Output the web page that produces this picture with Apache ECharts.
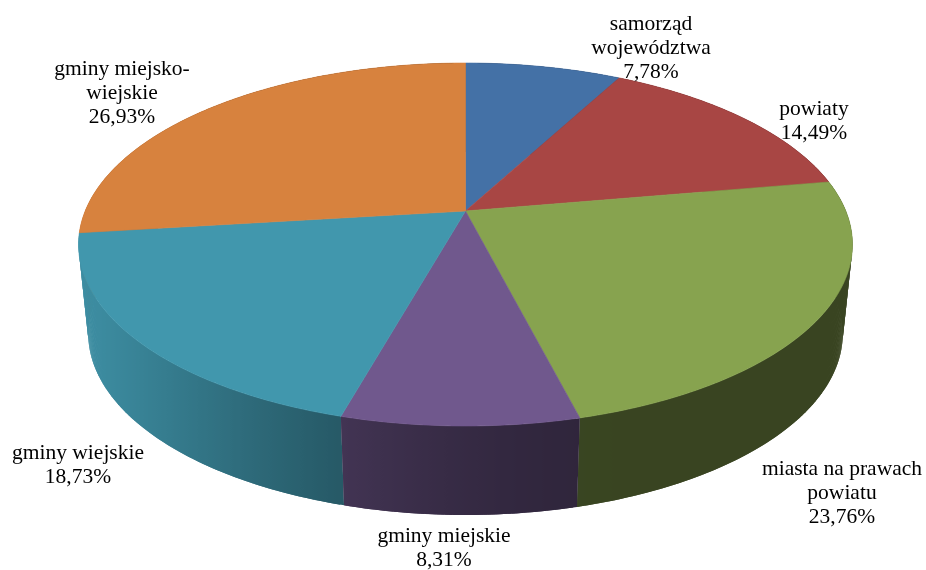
<!DOCTYPE html>
<html>
<head>
<meta charset="utf-8">
<script src="https://cdn.jsdelivr.net/npm/echarts@6/dist/echarts.min.js"></script>
<style>
  html, body { margin: 0; padding: 0; background: #ffffff; }
  #chart { width: 926px; height: 570px; }
</style>
</head>
<body>
<div id="chart"></div>
<script>
// Slice names (line breaks as they are set in the labels) and their shares in percent
const categories = [
  'samorząd\nwojewództwa',
  'powiaty',
  'miasta na prawach\npowiatu',
  'gminy miejskie',
  'gminy wiejskie',
  'gminy miejsko-\nwiejskie'
];
const shares = [7.78, 14.49, 23.76, 8.31, 18.73, 26.93];

// Slice colours (top faces)
const palette = ['#4471A6', '#A84644', '#87A34F', '#70588D', '#4197AD', '#D7823E'];

// Label block anchors: [centre x, top y]
const labelAnchors = [[651, 12], [814, 97], [842, 457], [444, 524], [78, 441], [122, 57]];

// Perspective of the tilted disc
const TILT_K = -0.1846;     // foreshortening along the depth direction
const SCALE_X = 380.3;
const SCALE_Y = 175.3;
const DEPTH = 89;           // thickness of the disc in pixels
const BASE_SHRINK = 0.975;  // bottom rim is slightly narrower (vertical convergence)
const LIGHT_ANGLE = 20 * Math.PI / 180;

const total = shares.reduce((a, b) => a + b, 0);
let running = 0;
const sliceData = shares.map((v, i) => {
  const start = running;
  running += v;
  return { name: categories[i], value: [start, running, i] };
});

function hexToRgb(hex) {
  const n = parseInt(hex.slice(1), 16);
  return [(n >> 16) & 255, (n >> 8) & 255, n & 255];
}
function shade(hex, f) {
  const c = hexToRgb(hex).map(x => Math.max(0, Math.min(255, Math.round(x * f))));
  return 'rgb(' + c.join(',') + ')';
}

// Unit-disc coordinates (u to the right, v toward the viewer) for an angle value,
// taken from the polar angle axis.
function discPoint(api, angleValue) {
  const c = api.coord([0, 0]);
  const top = api.coord([1, 0]);
  const R = c[1] - top[1];
  const p = api.coord([1, angleValue]);
  return { u: (p[0] - c[0]) / R, v: (p[1] - c[1]) / R, c: c };
}
function project(c, u, v) {
  const w = 1 + TILT_K * v;
  return [c[0] + SCALE_X * u / w, c[1] + SCALE_Y * v / w];
}
function samples(start, end) {
  const steps = Math.max(2, Math.ceil((end - start) / total * 720));
  const out = [];
  for (let s = 0; s <= steps; s++) out.push(start + (end - start) * s / steps);
  return out;
}
// Side-wall brightness from the outward normal of the rim
function wallFactor(u, v) {
  const lit = Math.max(0, -u * Math.cos(LIGHT_ANGLE) + v * Math.sin(LIGHT_ANGLE));
  return 0.42 + 0.51 * lit * lit;
}

function renderWall(params, api) {
  const start = api.value(0), end = api.value(1), idx = api.value(2);
  const base = palette[idx];
  const pts = samples(start, end).map(a => discPoint(api, a));
  const c = pts[0].c;
  const topRim = pts.map(p => project(c, p.u, p.v));
  const bottomRim = topRim.map(t => [c[0] + (t[0] - c[0]) * BASE_SHRINK, t[1] + DEPTH]);

  // horizontal gradient following the lighting along the rim
  const xs = topRim.map(t => t[0]);
  const minX = Math.min.apply(null, xs), maxX = Math.max.apply(null, xs);
  const span = Math.max(1, maxX - minX);
  const stops = pts.map((p, k) => ({ offset: (topRim[k][0] - minX) / span, f: wallFactor(p.u, p.v) }))
    .sort((a, b) => a.offset - b.offset)
    .map(s => ({ offset: Math.max(0, Math.min(1, s.offset)), color: shade(base, s.f) }));
  const grad = new echarts.graphic.LinearGradient(minX, 0, maxX, 0, stops, true);

  let vMid = 0;
  pts.forEach(p => { vMid += p.v; });
  vMid /= pts.length;
  const z2 = Math.round(200 + vMid * 100);

  // overlapping vertical bands swept along the rim
  const n = topRim.length - 1;
  const children = [];
  for (let k = 0; k < n; k++) {
    const j = Math.min(k + 2, n);
    children.push({
      type: 'polygon',
      z2: z2,
      silent: true,
      shape: { points: [topRim[k], topRim[j], bottomRim[j], bottomRim[k]] },
      style: { fill: grad }
    });
  }
  return { type: 'group', children: children };
}

function renderTop(params, api) {
  const start = api.value(0), end = api.value(1), idx = api.value(2);
  const pts = samples(start, end).map(a => discPoint(api, a));
  const c = pts[0].c;
  const poly = [[c[0], c[1]]].concat(pts.map(p => project(c, p.u, p.v)));
  const share = shares[idx];
  const anchor = labelAnchors[idx];
  return {
    type: 'group',
    children: [
      {
        type: 'polygon',
        shape: { points: poly },
        style: { fill: palette[idx], stroke: palette[idx], lineWidth: 0.6 },
        silent: true
      },
      {
        type: 'text',
        x: anchor[0],
        y: anchor[1],
        z2: 500,
        silent: true,
        style: {
          text: categories[idx] + '\n' + share.toFixed(2).replace('.', ',') + '%',
          fill: '#000000',
          fontSize: 21.5,
          fontFamily: '"Liberation Serif", "Times New Roman", serif',
          align: 'center',
          verticalAlign: 'top',
          lineHeight: 24
        }
      }
    ]
  };
}

const chart = echarts.init(document.getElementById('chart'), null, { renderer: 'canvas' });
chart.setOption({
  animation: false,
  backgroundColor: '#ffffff',
  polar: { center: [465.5, 211], radius: 100 },
  angleAxis: {
    type: 'value', min: 0, max: total, startAngle: 90, clockwise: true,
    show: false, axisLine: { show: false }, axisTick: { show: false },
    axisLabel: { show: false }, splitLine: { show: false }
  },
  radiusAxis: {
    type: 'value', min: 0, max: 1,
    show: false, axisLine: { show: false }, axisTick: { show: false },
    axisLabel: { show: false }, splitLine: { show: false }
  },
  series: [
    {
      name: 'wall', type: 'custom', coordinateSystem: 'polar', z: 2,
      renderItem: renderWall, data: sliceData, silent: true
    },
    {
      name: 'top', type: 'custom', coordinateSystem: 'polar', z: 3,
      renderItem: renderTop, data: sliceData, silent: true
    }
  ]
});
</script>
</body>
</html>
